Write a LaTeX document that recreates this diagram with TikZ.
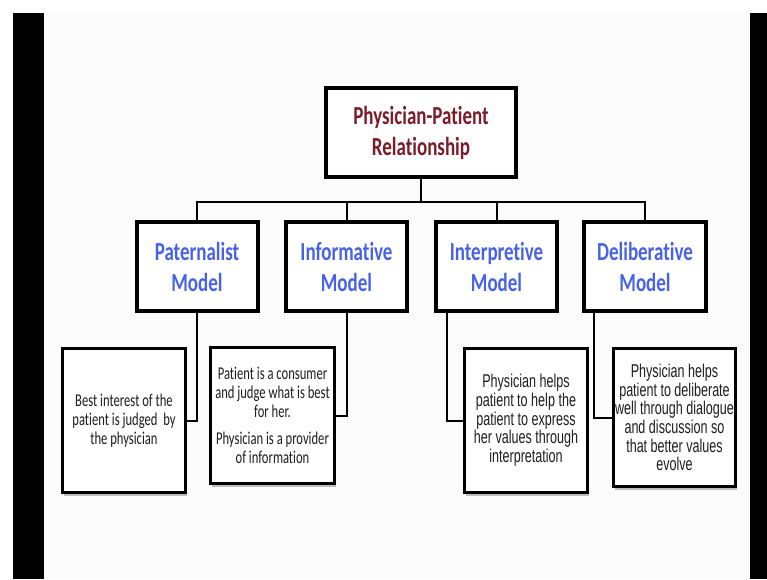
\documentclass[tikz,border=0pt]{standalone}
\usepackage{fontspec}
\usetikzlibrary{shadows}
\newfontfamily\headf[FakeStretch=0.73,Ligatures=NoCommon]{Carlito}
\newfontfamily\calibf[FakeStretch=0.70,Ligatures=NoCommon]{Carlito}
\newfontfamily\narrowf[FakeStretch=0.68]{Liberation Sans}
\definecolor{titlered}{HTML}{7B1C2C}
\definecolor{modelblue}{HTML}{4862E6}
\definecolor{bodytext}{HTML}{1E1E1E}
\definecolor{paper}{HTML}{FAFBFA}
\begin{document}
\begin{tikzpicture}[x=1pt,y=-1pt,
  topbox/.style={draw, line width=4pt, fill=white, minimum width=190pt, minimum height=89pt,
    inner sep=0pt, align=center, text=titlered, font=\headf\bfseries\fontsize{26}{31}\selectfont},
  modelbox/.style={draw, line width=4pt, fill=white, minimum width=121pt, minimum height=89pt,
    inner sep=0pt, align=center, text=modelblue, font=\headf\bfseries\fontsize{26}{31}\selectfont},
  descbox/.style={draw, line width=3pt, fill=white, inner sep=0pt, align=center, text=bodytext,
    drop shadow={shadow xshift=1pt, shadow yshift=-3pt, opacity=.35, fill=black!70}},
  calibtext/.style={font=\calibf\fontsize{18}{18.7}\selectfont},
  narrowtext/.style={font=\narrowf\fontsize{18.5}{18.7}\selectfont},
  link/.style={draw, line width=2pt}
]
\useasboundingbox (0,0) rectangle (767,579);
\fill[white] (0,0) rectangle (767,579);
\fill[paper] (44,13) rectangle (750,579);
\fill[black] (13,13) rectangle (44,579);
\fill[black] (750,13) rectangle (767,579);

\node[topbox] (top) at (421,132.5) {Physician-Patient\\Relationship};

\node[modelbox] (pat) at (197,266.5) {Paternalist\\Model};
\node[modelbox] (inf) at (346.5,266.5) {Informative\\Model};
\node[modelbox] (int) at (496.5,266.5) {Interpretive\\Model};
\node[modelbox, minimum width=122pt] (del) at (645,266.5) {Deliberative\\Model};

\node[descbox, calibtext, minimum width=123pt, minimum height=144pt] (d1) at (124,420.5)
  {Best interest of the\\patient is judged\ \ by\\the physician};
\node[descbox, calibtext, minimum width=124pt, minimum height=136pt] (d2) at (272.5,415.5)
  {Patient is a consumer\\and judge what is best\\for her.\\[9pt]Physician is a provider\\of information};
\node[descbox, narrowtext, minimum width=123pt, minimum height=144pt] (d3) at (526,420.5)
  {Physician helps\\patient to help the\\patient to express\\her values through\\interpretation};
\node[descbox, narrowtext, minimum width=122pt, minimum height=138pt] (d4) at (674.5,417.5)
  {Physician helps\\patient to deliberate\\well through dialogue\\and discussion so\\that better values\\evolve};

\coordinate (bus) at (421,202);
\path[link] (top.south) -- (bus);
\path[link] (pat.north) |- (bus) -| (del.north);
\path[link] (inf.north) -- (inf.north |- bus);
\path[link] (int.north) -- (int.north |- bus);

\path[link] (pat.south) |- (d1.east);
\path[link] (inf.south) |- (d2.east);
\path[link] ([xshift=13pt]int.south west) |- (d3.west);
\path[link] ([xshift=12pt]del.south west) |- (d4.west);
\end{tikzpicture}
\end{document}
